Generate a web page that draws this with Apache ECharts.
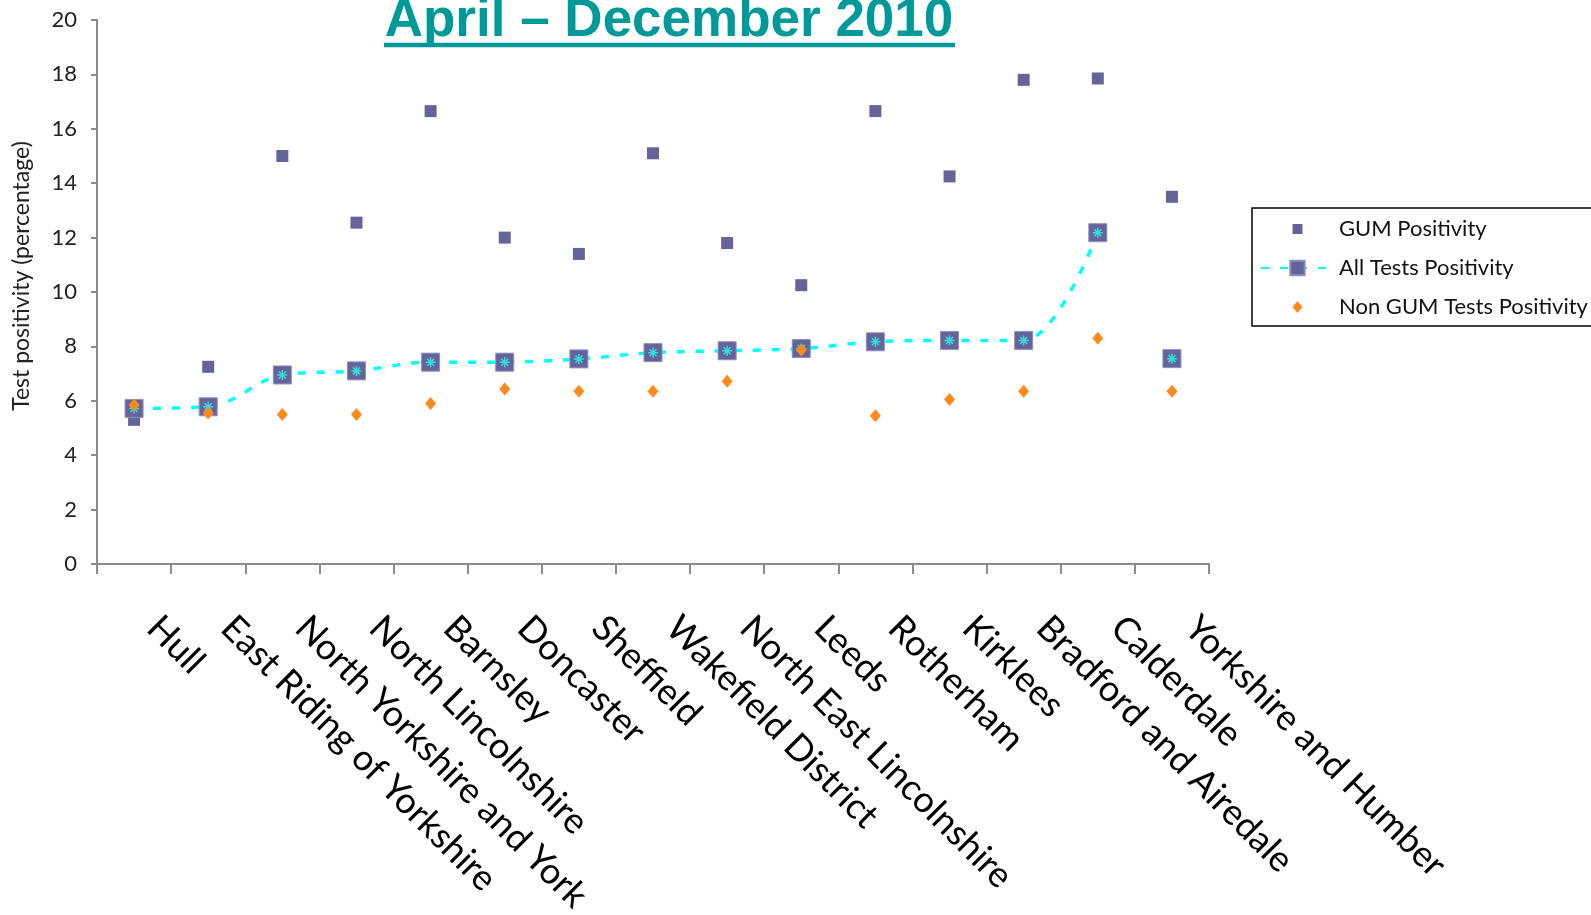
<!DOCTYPE html>
<html>
<head>
<meta charset="utf-8">
<script src="https://cdn.jsdelivr.net/npm/echarts@6/dist/echarts.min.js"></script>
<style>
html,body{margin:0;padding:0;background:#fff;}
#chart{width:1591px;height:915px;}
</style>
</head>
<body>
<div id="chart"></div>
<script>
const categories = ['Hull','East Riding of Yorkshire','North Yorkshire and York','North Lincolnshire','Barnsley','Doncaster','Sheffield','Wakefield District','North East Lincolnshire','Leeds','Rotherham','Kirklees','Bradford and Airedale','Calderdale','Yorkshire and Humber'];
const gumPositivity = [5.3, 7.25, 15.0, 12.55, 16.65, 12.0, 11.4, 15.1, 11.8, 10.25, 16.65, 14.25, 17.8, 17.85, 13.5];
const allTestsPositivity = [5.72, 5.78, 6.95, 7.1, 7.42, 7.42, 7.54, 7.77, 7.84, 7.92, 8.17, 8.22, 8.22, 12.18, 7.55];
const nonGumPositivity = [5.85, 5.55, 5.5, 5.5, 5.9, 6.43, 6.35, 6.35, 6.72, 7.87, 5.45, 6.05, 6.35, 8.3, 6.35];
const yTicks = [0, 2, 4, 6, 8, 10, 12, 14, 16, 18, 20];
const seriesNames = ['GUM Positivity', 'All Tests Positivity', 'Non GUM Tests Positivity'];
const titleText = 'April \u2013 December 2010';
const yAxisTitle = 'Test positivity (percentage)';

// The regional total (last category) is not joined to the line
const lastIdx = categories.length - 1;
const lineData = allTestsPositivity.map((v, i) => i === lastIdx ? null : v);
const totalData = allTestsPositivity.map((v, i) => i === lastIdx ? v : null);

const purple = '#64649b';
const orange = '#ff8a1c';
const chart = echarts.init(document.getElementById('chart'));
chart.setOption({
  animation: false,
  backgroundColor: '#ffffff',
  grid: { left: 97, right: 382, top: 20, bottom: 351, containLabel: false, outerBoundsMode: 'none' },
  graphic: [
    { type: 'text', x: 669, y: 48, z: 10,
      style: { text: titleText, font: 'bold 53px "Liberation Sans", Arial, sans-serif', fill: '#009999', align: 'center', verticalAlign: 'bottom' } },
    { type: 'line', z: 10, shape: { x1: 384, y1: 45, x2: 955, y2: 45 }, style: { stroke: '#009999', lineWidth: 4.5 } },
    { type: 'text', x: 22, y: 276, rotation: Math.PI / 2, z: 10,
      style: { text: yAxisTitle, font: '23px Lato, sans-serif', fill: '#222', align: 'center', verticalAlign: 'middle' } }
  ],
  legend: {
    data: [
      { name: seriesNames[0], icon: 'path://M-4,-4M14,14M0,0L10,0L10,10L0,10Z', itemStyle: { color: purple, opacity: 1 } },
      { name: seriesNames[1] },
      { name: seriesNames[2], icon: 'path://M-4,-3M14,15M5,0L10,6L5,12L0,6Z', itemStyle: { color: orange, opacity: 1 } }
    ],
    orient: 'vertical',
    left: 1252, top: 208,
    padding: [10, 90, 8, 8],
    itemWidth: 73, itemHeight: 18, itemGap: 17,
    borderColor: '#000', borderWidth: 1.5,
    textStyle: { fontFamily: 'Lato, sans-serif', fontSize: 22, color: '#111' }
  },
  xAxis: {
    type: 'category',
    data: categories,
    boundaryGap: true,
    axisLine: { show: true, lineStyle: { color: '#8c8c8c', width: 2 } },
    axisTick: { show: true, interval: 0, length: 10, alignWithLabel: false, lineStyle: { color: '#8c8c8c', width: 2 } },
    axisLabel: { interval: 0, rotate: -45, margin: 39, padding: [0, 0, 0, 27], fontFamily: 'Lato, sans-serif', fontSize: 36, color: '#000' },
    splitLine: { show: false }
  },
  yAxis: {
    type: 'value',
    min: yTicks[0], max: yTicks[yTicks.length - 1], interval: 2,
    axisLine: { show: true, lineStyle: { color: '#8c8c8c', width: 2 } },
    axisTick: { show: true, length: 6, lineStyle: { color: '#8c8c8c', width: 2 } },
    axisLabel: { margin: 20, fontFamily: 'Lato, sans-serif', fontSize: 22, color: '#222' },
    splitLine: { show: false }
  },
  series: [
    { name: seriesNames[0], type: 'scatter', z: 2, data: gumPositivity,
      symbol: 'rect', symbolSize: 12,
      itemStyle: { color: purple, opacity: 1 } },
    { name: seriesNames[1], type: 'line', z: 3, data: lineData, connectNulls: false,
      smooth: 0.35,
      symbol: 'rect', symbolSize: 18, showSymbol: true,
      lineStyle: { color: '#00ffff', width: 3.5, type: [8, 11] },
      itemStyle: { color: purple, borderColor: '#8e8ebd', borderWidth: 1, opacity: 1 } },
    { name: seriesNames[1], type: 'scatter', z: 3, data: totalData,
      symbol: 'rect', symbolSize: 18,
      itemStyle: { color: purple, borderColor: '#8e8ebd', borderWidth: 1, opacity: 1 } },
    { name: 'asterisk', type: 'scatter', z: 4, data: allTestsPositivity, silent: true,
      symbol: 'path://M5,0L5,10M0,5L10,5M1.5,1.5L8.5,8.5M1.5,8.5L8.5,1.5', symbolSize: 10,
      itemStyle: { color: 'none', borderColor: '#33dede', borderWidth: 1.5, opacity: 1 } },
    { name: seriesNames[2], type: 'scatter', z: 5, data: nonGumPositivity,
      symbol: 'diamond', symbolSize: [11, 13],
      itemStyle: { color: orange, opacity: 1 } }
  ]
});
</script>
</body>
</html>
